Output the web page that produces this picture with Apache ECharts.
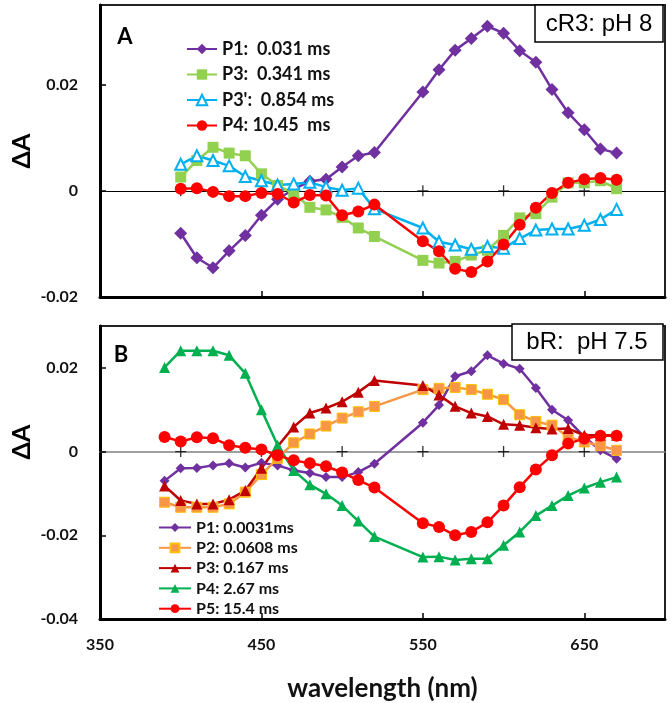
<!DOCTYPE html>
<html><head><meta charset="utf-8">
<script src="https://cdn.jsdelivr.net/npm/echarts@6/dist/echarts.min.js"></script>
<style>html,body{margin:0;padding:0;background:#fff}#c{width:672px;height:703px}</style>
</head><body><div id="c"></div>
<script>
// ---- Panel A (cR3, pH 8) ----
const wlA = [400,410,420,430,440,450,460,470,480,490,500,510,520,550,560,570,580,590,600,610,620,630,640,650,660,670];
const A_P1 = [-0.0080,-0.0126,-0.0145,-0.0113,-0.0084,-0.0046,-0.0016,0.0003,0.0018,0.0022,0.0045,0.0066,0.0072,0.0186,0.0228,0.0265,0.0287,0.0310,0.0297,0.0264,0.0242,0.0191,0.0147,0.0115,0.0079,0.0071];
const A_P3 = [0.0026,0.0057,0.0082,0.0071,0.0066,0.0032,0.0010,-0.0005,-0.0031,-0.0036,-0.0050,-0.0070,-0.0086,-0.0131,-0.0136,-0.0133,-0.0121,-0.0112,-0.0084,-0.0051,-0.0043,-0.0012,0.0015,0.0015,0.0019,0.0004];
const A_P3p = [0.0050,0.0066,0.0057,0.0047,0.0027,0.0019,0.0011,0.0013,0.0016,0.0007,0.0001,0.0005,-0.0034,-0.0070,-0.0096,-0.0102,-0.0110,-0.0105,-0.0108,-0.0090,-0.0074,-0.0072,-0.0072,-0.0065,-0.0054,-0.0035];
const A_P4 = [0.0004,0.0005,-0.0002,-0.0010,-0.0010,-0.0004,-0.0006,-0.0022,-0.0008,-0.0009,-0.0046,-0.0039,-0.0026,-0.0095,-0.0114,-0.0147,-0.0153,-0.0133,-0.0101,-0.0064,-0.0032,-0.0004,0.0015,0.0022,0.0024,0.0021];
const namesA = ['P1:  0.031 ms','P3:  0.341 ms',"P3':  0.854 ms",'P4: 10.45  ms'];

// ---- Panel B (bR, pH 7.5) ----
const wlB = [390,400,410,420,430,440,450,460,470,480,490,500,510,520,550,560,570,580,590,600,610,620,630,640,650,660,670];
const B_P1 = [-0.0070,-0.0040,-0.0039,-0.0033,-0.0028,-0.0038,-0.0027,-0.0033,-0.0045,-0.0051,-0.0061,-0.0061,-0.0049,-0.0029,0.0069,0.0111,0.0180,0.0192,0.0230,0.0210,0.0198,0.0152,0.0100,0.0075,0.0035,0.0003,-0.0017];
const B_P2 = [-0.0121,-0.0133,-0.0133,-0.0133,-0.0125,-0.0097,-0.0055,-0.0016,0.0021,0.0042,0.0061,0.0080,0.0095,0.0108,0.0148,0.0151,0.0153,0.0148,0.0137,0.0124,0.0088,0.0072,0.0063,0.0035,0.0023,0.0014,0.0003];
const B_P3 = [-0.0082,-0.0117,-0.0125,-0.0125,-0.0115,-0.0093,-0.0040,0.0012,0.0059,0.0092,0.0104,0.0119,0.0142,0.0170,0.0158,0.0135,0.0108,0.0092,0.0084,0.0065,0.0063,0.0057,0.0054,0.0055,0.0039,0.0039,0.0039];
const B_P4 = [0.0201,0.0241,0.0241,0.0241,0.0230,0.0187,0.0100,0.0015,-0.0045,-0.0079,-0.0101,-0.0129,-0.0166,-0.0203,-0.0252,-0.0251,-0.0259,-0.0256,-0.0256,-0.0224,-0.0192,-0.0153,-0.0129,-0.0105,-0.0087,-0.0073,-0.0061];
const B_P5 = [0.0035,0.0024,0.0034,0.0032,0.0015,0.0009,0.0005,-0.0009,-0.0021,-0.0028,-0.0035,-0.0050,-0.0068,-0.0086,-0.0171,-0.0180,-0.0200,-0.0192,-0.0169,-0.0129,-0.0085,-0.0043,-0.0009,0.0019,0.0031,0.0038,0.0038];
const namesB = ['P1: 0.0031ms','P2: 0.0608 ms','P3: 0.167 ms','P4: 2.67 ms','P5: 15.4 ms'];

// ---- axis ticks / labels ----
const xLabelVals = [350,450,550,650];
const xTickVals = [450,550,650];
const crossTicks = [400,450,500,550,600,650];
const yTicksA = [-0.02,0,0.02];
const yTicksB = [-0.04,-0.02,0,0.02];

const FONT = 'Lato, "Open Sans", sans-serif';
const CROSS = 'path://M4.4,0H5.6V10H4.4Z M0,4.4H10V5.6H0Z';

function ser(name, xi, yi, xs, ys, color, symbol, size, item) {
  return {
    type: 'line', name: name, xAxisIndex: xi, yAxisIndex: yi,
    data: xs.map((x, i) => [x, ys[i]]),
    symbol: symbol, symbolSize: size,
    lineStyle: { color: color, width: 2.5 },
    itemStyle: Object.assign({ color: color, opacity: 1 }, item || {}),
    emphasis: { disabled: true }, animation: false
  };
}
function crossSer(xi, yi) {
  return {
    type: 'scatter', xAxisIndex: xi, yAxisIndex: yi, silent: true, animation: false,
    data: crossTicks.map(x => [x, 0]), symbol: CROSS, symbolSize: 11,
    itemStyle: { color: '#000' }, z: 1
  };
}
function bottomAxis(gi, showLabels) {
  return {
    type: 'value', gridIndex: gi, min: 350, max: 700, position: 'bottom',
    axisLine: { onZero: false, lineStyle: { color: '#000', width: 3 } },
    axisTick: { inside: true, length: 6, lineStyle: { color: '#000', width: 1.5 }, customValues: xTickVals },
    axisLabel: { show: showLabels, customValues: xLabelVals, color: '#111', fontFamily: FONT, fontWeight: 'bold', fontSize: 16, margin: 18 },
    splitLine: { show: false },
    name: showLabels ? 'wavelength (nm)' : '', nameLocation: 'middle', nameGap: 57,
    nameTextStyle: { color: '#111', fontFamily: FONT, fontWeight: 'bold', fontSize: 26 }
  };
}
function zeroAxis(gi, color, width) {
  return {
    type: 'value', gridIndex: gi, min: 350, max: 700, position: 'bottom',
    axisLine: { onZero: true, lineStyle: { color: color, width: width } },
    axisTick: { show: false }, axisLabel: { show: false }, splitLine: { show: false }
  };
}
function yAxis(gi, min, max, ticks) {
  return {
    type: 'value', gridIndex: gi, min: min, max: max,
    axisLine: { show: true, lineStyle: { color: '#000', width: 3 } },
    axisTick: { show: true, inside: true, length: 6, lineStyle: { color: '#000', width: 1.5 }, customValues: ticks },
    axisLabel: { customValues: ticks, color: '#111', fontFamily: FONT, fontWeight: 'bold', fontSize: 16, margin: 22,
      formatter: v => (v === 0 ? '0' : String(+v.toFixed(3))) },
    splitLine: { show: false }
  };
}

const option = {
  backgroundColor: '#fff',
  animation: false,
  grid: [
    { left: 100, top: 5, width: 565, height: 292, show: true, borderColor: '#222', borderWidth: 2, backgroundColor: 'transparent' },
    { left: 100, top: 326, width: 565, height: 293, show: true, borderColor: '#222', borderWidth: 2, backgroundColor: 'transparent' }
  ],
  xAxis: [bottomAxis(0, false), zeroAxis(0, '#000', 1), bottomAxis(1, true), zeroAxis(1, '#808080', 1.5)],
  yAxis: [yAxis(0, -0.02, 0.035, yTicksA), yAxis(1, -0.04, 0.03, yTicksB)],
  legend: [
    { data: namesA, orient: 'vertical', left: 181, top: 34, itemWidth: 30, itemHeight: 13, itemGap: 5.5,
      selectedMode: false,
      textStyle: { color: '#111', fontFamily: FONT, fontWeight: 'bold', fontSize: 18, lineHeight: 20 } },
    { data: namesB, orient: 'vertical', left: 153, top: 514, itemWidth: 32, itemHeight: 11, itemGap: 3.3,
      selectedMode: false,
      textStyle: { color: '#111', fontFamily: FONT, fontWeight: 'bold', fontSize: 16, lineHeight: 17 } }
  ],
  series: [
    crossSer(0, 0),
    ser(namesA[0], 0, 0, wlA, A_P1, '#7030A0', 'diamond', 13),
    ser(namesA[1], 0, 0, wlA, A_P3, '#92D050', 'rect', 11),
    ser(namesA[2], 0, 0, wlA, A_P3p, '#00B0F0', 'triangle', 11, { color: '#fff', borderColor: '#00B0F0', borderWidth: 2 }),
    ser(namesA[3], 0, 0, wlA, A_P4, '#FF0000', 'circle', 12),
    crossSer(2, 1),
    ser(namesB[0], 2, 1, wlB, B_P1, '#7030A0', 'diamond', 10),
    ser(namesB[1], 2, 1, wlB, B_P2, '#F79646', 'rect', 10, { borderColor: '#FFC000', borderWidth: 1 }),
    ser(namesB[2], 2, 1, wlB, B_P3, '#C00000', 'triangle', 11),
    ser(namesB[3], 2, 1, wlB, B_P4, '#00B050', 'triangle', 11),
    ser(namesB[4], 2, 1, wlB, B_P5, '#FF0000', 'circle', 12)
  ],
  graphic: [
    { type: 'text', x: 125, y: 37, z: 100, style: { text: 'A', font: 'bold 22px ' + FONT, fill: '#000', textAlign: 'center', textVerticalAlign: 'middle' } },
    { type: 'text', x: 121, y: 355, z: 100, style: { text: 'B', font: 'bold 22px ' + FONT, fill: '#000', textAlign: 'center', textVerticalAlign: 'middle' } },
    { type: 'rect', z: 100, shape: { x: 535, y: 5, width: 128, height: 37 }, style: { fill: '#fff', stroke: '#000', lineWidth: 1.5 } },
    { type: 'text', x: 599, y: 24, z: 101, style: { text: 'cR3: pH 8', font: '24px "Liberation Sans", Arial, sans-serif', fill: '#000', textAlign: 'center', textVerticalAlign: 'middle' } },
    { type: 'rect', z: 100, shape: { x: 512, y: 324, width: 151, height: 36 }, style: { fill: '#fff', stroke: '#000', lineWidth: 1.5 } },
    { type: 'text', x: 587, y: 342, z: 101, style: { text: 'bR:  pH 7.5', font: '24px "Liberation Sans", Arial, sans-serif', fill: '#000', textAlign: 'center', textVerticalAlign: 'middle' } },
    { type: 'text', x: 22, y: 151, rotation: Math.PI / 2, z: 100, style: { text: 'ΔA', font: 'bold 25px ' + FONT, fill: '#000', textAlign: 'center', textVerticalAlign: 'middle' } },
    { type: 'text', x: 22, y: 442, rotation: Math.PI / 2, z: 100, style: { text: 'ΔA', font: 'bold 25px ' + FONT, fill: '#000', textAlign: 'center', textVerticalAlign: 'middle' } }
  ]
};
const chart = echarts.init(document.getElementById('c'));
chart.setOption(option);
</script>
</body></html>
